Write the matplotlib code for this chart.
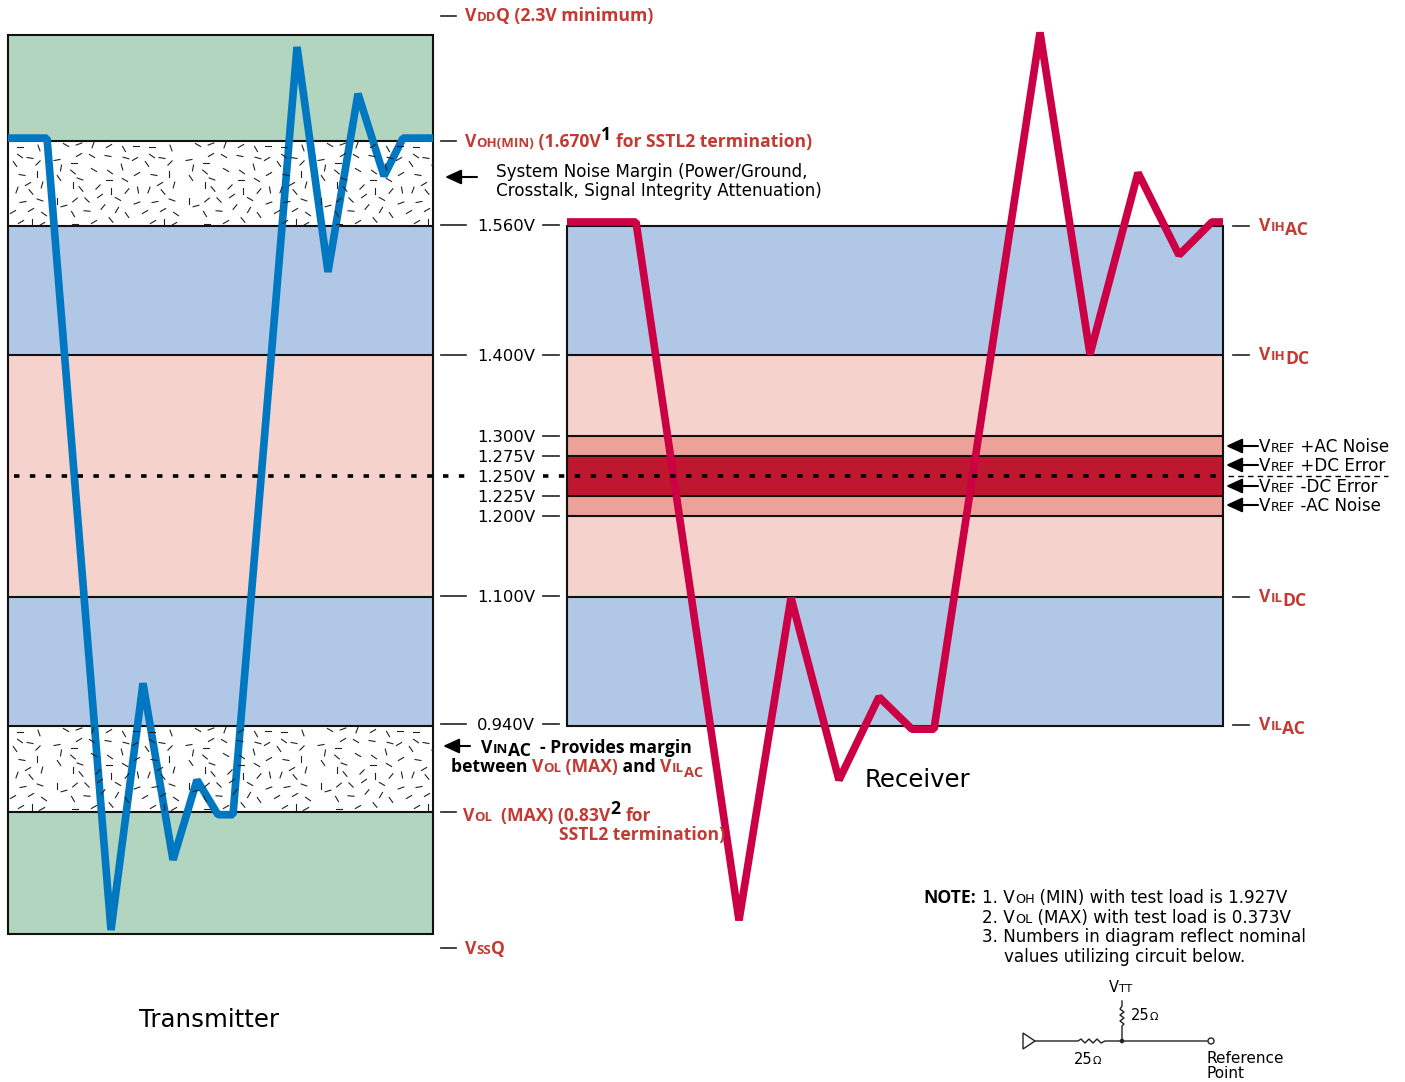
import numpy as np
import matplotlib
matplotlib.use('Agg')
import matplotlib.pyplot as plt
from matplotlib.patches import Polygon, Rectangle, Circle

plt.rcParams['font.family'] = ['DejaVu Sans']

# voltage levels of the bands
top_tx = 1.797
voh_min = 1.665
vih_ac = 1.56
vih_dc = 1.40
vref_ac_hi = 1.30
vref_dc_hi = 1.275
vref = 1.25
vref_dc_lo = 1.225
vref_ac_lo = 1.20
vil_dc = 1.10
vil_ac = 0.94
vol_max = 0.833
bot_tx = 0.682

# transmitter waveform
tx_x = [8, 47, 111, 143, 173, 197, 218, 233, 297, 328, 358, 384, 403, 433]
tx_v = [1.669, 1.669, 0.687, 0.993, 0.774, 0.873, 0.830, 0.830, 1.782, 1.503, 1.724, 1.622, 1.669, 1.669]

# receiver waveform
rx_x = [567, 636, 739, 791, 839, 879, 912, 934, 1040, 1090, 1138, 1179, 1212, 1223]
rx_v = [1.565, 1.565, 0.699, 1.099, 0.873, 0.976, 0.936, 0.936, 1.800, 1.401, 1.626, 1.524, 1.565, 1.565]

GREEN = '#b2d5c0'
BLUE = '#b0c8e6'
PINK = '#f6d2cc'
SALMON = '#eca298'
CRIMSON = '#bf1730'
TX_COL = '#0078c1'
RX_COL = '#cc0044'
RED = '#c23a32'

# speckle texture, one tile: x, y (pixels inside the tile), angle
speckle = [
    (20, 5, 0), (39, 6, -70), (66, 3, -30), (79, 2, 20), (93, 3, 70), (109, 4, 30),
    (124, 7, -60), (136, 4, 0),
    (20, 14, -35), (30, 16, -10), (38, 21, 45), (57, 18, 10), (79, 13, 30), (92, 14, -30),
    (108, 14, -10), (126, 16, -15), (135, 17, 30),
    (15, 22, -55), (37, 32, 90), (22, 33, -10), (61, 26, 80), (59, 36, -55), (74, 21, 0),
    (73, 30, -40), (94, 28, -30), (110, 30, -35), (122, 25, -75), (137, 32, 30),
    (42, 43, 75), (28, 42, 30), (17, 48, 70), (31, 50, -50), (73, 43, 90), (80, 37, -20),
    (81, 47, -50), (98, 45, 45), (109, 38, 0), (125, 38, -30), (111, 49, 90), (127, 49, 50),
    (138, 48, -80),
    (23, 60, 10), (40, 58, -20), (57, 59, 90), (64, 64, 15), (75, 58, 40), (87, 58, -45),
    (100, 54, 35), (118, 57, -30), (103, 65, 50), (117, 68, 60), (137, 61, 20),
    (13, 70, 30), (31, 68, 30), (44, 72, -35), (73, 72, -60), (87, 69, -5), (127, 73, -55),
    (21, 80, 30), (32, 80, 90), (42, 82, 30), (75, 82, 0), (94, 80, 30),
    (111, 78, -50),
]
TILE = 132

fig = plt.figure(figsize=(14.05, 10.82), dpi=100)

# volts axis for bands and lines
ax = fig.add_axes([0, 0, 1, 1])
px_per_volt = 806.45
ax.set_xlim(0, 1405)
ax.set_ylim(1.56 - (1082 - 226) / px_per_volt, 1.56 + 226 / px_per_volt)
ax.axis('off')

# pixel axis for text and the small stuff
pix = fig.add_axes([0, 0, 1, 1], facecolor='none')
pix.set_xlim(0, 1405)
pix.set_ylim(1082, 0)
pix.axis('off')
renderer = fig.canvas.get_renderer()


def band(x0, x1, hi, lo, col):
    ax.fill_between([x0, x1], lo, hi, color=col, lw=0, zorder=1)


def hline(x0, x1, v):
    ax.plot([x0, x1], [v, v], color='#111111', lw=1.5, zorder=2, solid_capstyle='butt')


# ------ transmitter box ------
band(8, 433, top_tx, voh_min, GREEN)
band(8, 433, vih_ac, vih_dc, BLUE)
band(8, 433, vih_dc, vil_dc, PINK)
band(8, 433, vil_dc, vil_ac, BLUE)
band(8, 433, vol_max, bot_tx, GREEN)
for v in [voh_min, vih_ac, vih_dc, vil_dc, vil_ac, vol_max]:
    hline(8, 433, v)
ax.add_patch(Rectangle((8, bot_tx), 425, top_tx - bot_tx, fill=False, ec='#111111', lw=1.5, zorder=2))

# speckle in the two noise margins
for y_top, y_bot in [(141, 226), (726, 812)]:
    clip = Rectangle((8, y_top), 425, y_bot - y_top, transform=pix.transData)
    for col in range(4):
        for sx, sy, ang in speckle:
            x = sx + col * TILE
            y = y_top + sy + 1
            dx = 3 * np.cos(np.radians(ang))
            dy = 3 * np.sin(np.radians(ang))
            ln, = pix.plot([x - dx, x + dx], [y + dy, y - dy], color='#222222', lw=0.8, zorder=1)
            ln.set_clip_path(clip)

# ------ receiver box ------
band(567, 1223, vih_ac, vih_dc, BLUE)
band(567, 1223, vih_dc, vref_ac_hi, PINK)
band(567, 1223, vref_ac_hi, vref_dc_hi, SALMON)
band(567, 1223, vref_dc_hi, vref_dc_lo, CRIMSON)
band(567, 1223, vref_dc_lo, vref_ac_lo, SALMON)
band(567, 1223, vref_ac_lo, vil_dc, PINK)
band(567, 1223, vil_dc, vil_ac, BLUE)
for v in [vih_ac, vih_dc, vref_ac_hi, vref_dc_hi, vref_dc_lo, vref_ac_lo, vil_dc, vil_ac]:
    hline(567, 1223, v)
ax.plot([567, 567], [vil_ac, vih_ac], color='#111111', lw=1.5, zorder=2)
ax.plot([1223, 1223], [vil_ac, vih_ac], color='#111111', lw=1.5, zorder=2)

# waveforms
ax.plot(tx_x, tx_v, color=TX_COL, lw=5.5, solid_joinstyle='bevel', solid_capstyle='butt', zorder=3)
ax.plot(rx_x, rx_v, color=RX_COL, lw=5.5, solid_joinstyle='bevel', solid_capstyle='butt', zorder=3)

# Vref dotted line
ax.plot([14, 470], [vref, vref], color='black', lw=2.6, dashes=(1.5, 2.9), zorder=4)
ax.plot([543, 1222], [vref, vref], color='black', lw=2.6, dashes=(1.5, 2.9), zorder=4)
ax.plot([1228, 1388], [vref, vref], color='black', lw=1, dashes=(4, 3), zorder=4)


# ------ text ------
def fam(weight):
    return 'Open Sans' if weight == 'bold' else 'DejaVu Sans'


def text_w(s, size, weight):
    t = pix.text(0, 0, '|' + s + '|', fontsize=size, fontweight=weight, family=fam(weight))
    w = t.get_window_extent(renderer).width
    t.set_text('||')
    w -= t.get_window_extent(renderer).width
    t.remove()
    return w


def runs(x, y, parts, col='black', weight='normal'):
    # parts = (text, size) or (text, size, color) or (text, size, color, dy in px)
    for p in parts:
        s = p[0]
        size = p[1]
        c = p[2] if len(p) > 2 and p[2] else col
        dy = p[3] if len(p) > 3 else 0
        pix.text(x, y + dy, s, fontsize=size, color=c, fontweight=weight, family=fam(weight),
                 va='baseline', ha='left', zorder=6)
        x += text_w(s, size, weight)
    return x


BIG = 12.1    # regular text
SM = 9.2
BB = 12.6     # bold text
BS = 9.5


def tick(x0, x1, y):
    pix.plot([x0, x1], [y, y], color='#222222', lw=1.2, zorder=5)


def arrow(x0, x1, y):
    pix.annotate('', xy=(x0, y), xytext=(x1, y), zorder=6,
                 arrowprops=dict(arrowstyle='-|>,head_length=0.7,head_width=0.32', color='black', lw=1.5,
                                 shrinkA=0, shrinkB=0, mutation_scale=14))


volt_rows = [('1.560V', 231, True), ('1.400V', 361, True), ('1.300V', 442, False), ('1.275V', 462, False),
             ('1.250V', 482, None), ('1.225V', 502, False), ('1.200V', 522, False), ('1.100V', 602, True),
             ('0.940V', 730, True)]
for lab, base, left in volt_rows:
    pix.text(477, base, lab, fontsize=11.8, va='baseline', ha='left', zorder=6)
    if left is not None:
        tick(543, 559, base - 6)
    if left:
        tick(441, 466, base - 6)

# left column labels
tick(441, 456, 16)
runs(465, 21, [('V', BB), ('DD', BS), ('Q (2.3V minimum)', BB)], RED, 'bold')
tick(441, 456, 141)
x = runs(465, 147, [('V', BB), ('OH(MIN)', BS), (' (1.670V', BB)], RED, 'bold')
x = runs(x, 140, [('1', BB, 'black')], RED, 'bold')
runs(x + 5, 147, [('for SSTL2 termination)', BB)], RED, 'bold')
arrow(445, 477, 177)
pix.text(496, 177, 'System Noise Margin (Power/Ground,', fontsize=BIG, va='baseline', zorder=6)
pix.text(496, 196, 'Crosstalk, Signal Integrity Attenuation)', fontsize=BIG, va='baseline', zorder=6)

arrow(443, 470, 746)
x = runs(481, 753, [('V', BB), ('IN', BS), ('AC', BB, None, 3)], 'black', 'bold')
runs(x + 9, 753, [('- Provides margin', BB)], 'black', 'bold')
x = runs(451, 772, [('between ', BB)], 'black', 'bold')
x = runs(x, 772, [('V', BB, RED), ('OL', BS, RED), (' (MAX)', BB, RED), (' and ', BB), ('V', BB, RED), ('IL', BS, RED),
                  ('AC', BS + 1, RED, 5)], 'black', 'bold')

tick(441, 456, 812)
x = runs(463, 821, [('V', BB), ('OL', BS), ('  (MAX) (0.83V', BB)], RED, 'bold')
x = runs(x, 814, [('2', BB, 'black')], RED, 'bold')
runs(x + 5, 821, [('for', BB)], RED, 'bold')
runs(559, 840, [('SSTL2 termination)', BB)], RED, 'bold')
tick(441, 456, 948)
runs(465, 954, [('V', BB), ('SS', BS), ('Q', BB)], RED, 'bold')

# right column labels
right_rows = [('IH', 'AC', 226), ('IH', 'DC', 355), ('IL', 'DC', 597), ('IL', 'AC', 725)]
for small, sub, y in right_rows:
    tick(1233, 1249, y)
    runs(1259, y + 5, [('V', BB), (small, BS), (sub, BB, None, 4)], RED, 'bold')

vref_rows = [('+AC Noise', 446), ('+DC Error', 465), ('-DC Error', 486), ('-AC Noise', 505)]
for lab, y in vref_rows:
    arrow(1226, 1258, y)
    runs(1259, y + 6, [('V', BIG), ('REF', SM), (' ' + lab, BIG)], 'black')

pix.text(865, 787, 'Receiver', fontsize=17.6, va='baseline', zorder=6)
pix.text(139, 1027, 'Transmitter', fontsize=17.6, va='baseline', zorder=6)

# notes
runs(923, 903, [('NOTE:', BB)], 'black', 'bold')
runs(982, 903, [('1. V', BIG), ('OH', SM), (' (MIN) with test load is 1.927V', BIG)])
runs(982, 923, [('2. V', BIG), ('OL', SM), (' (MAX) with test load is 0.373V', BIG)])
pix.text(982, 942, '3. Numbers in diagram reflect nominal', fontsize=BIG, va='baseline')
pix.text(1004, 962, 'values utilizing circuit below.', fontsize=BIG, va='baseline')

# circuit
pix.add_patch(Polygon([[1023, 1033], [1023, 1049], [1035, 1041]], fill=False, ec='#222222', lw=1))
wire = dict(color='#222222', lw=1)
pix.plot([1035, 1078, 1081, 1085, 1089, 1093, 1097, 1101, 1105, 1122, 1207], [1041, 1041, 1039, 1043, 1039, 1043, 1039, 1043, 1041, 1041, 1041], **wire)
pix.plot([1122, 1122, 1124, 1120, 1124, 1120, 1124, 1120, 1122, 1122], [1041, 1026, 1024, 1021, 1018, 1015, 1012, 1009, 1006, 1001], **wire)
pix.add_patch(Circle((1122, 1041), 1.6, color='#222222'))
pix.add_patch(Circle((1211, 1041), 3, fc='white', ec='#222222', lw=1, zorder=4))
runs(1109, 992, [('V', 10.5), ('TT', 8)])
runs(1131, 1020, [('25', 10.5), ('Ω', 8)])
runs(1074, 1064, [('25', 10.5), ('Ω', 8)])
pix.text(1206, 1063, 'Reference', fontsize=11, va='baseline')
pix.text(1206, 1078, 'Point', fontsize=11, va='baseline')

fig.savefig('out.png', dpi=100)
